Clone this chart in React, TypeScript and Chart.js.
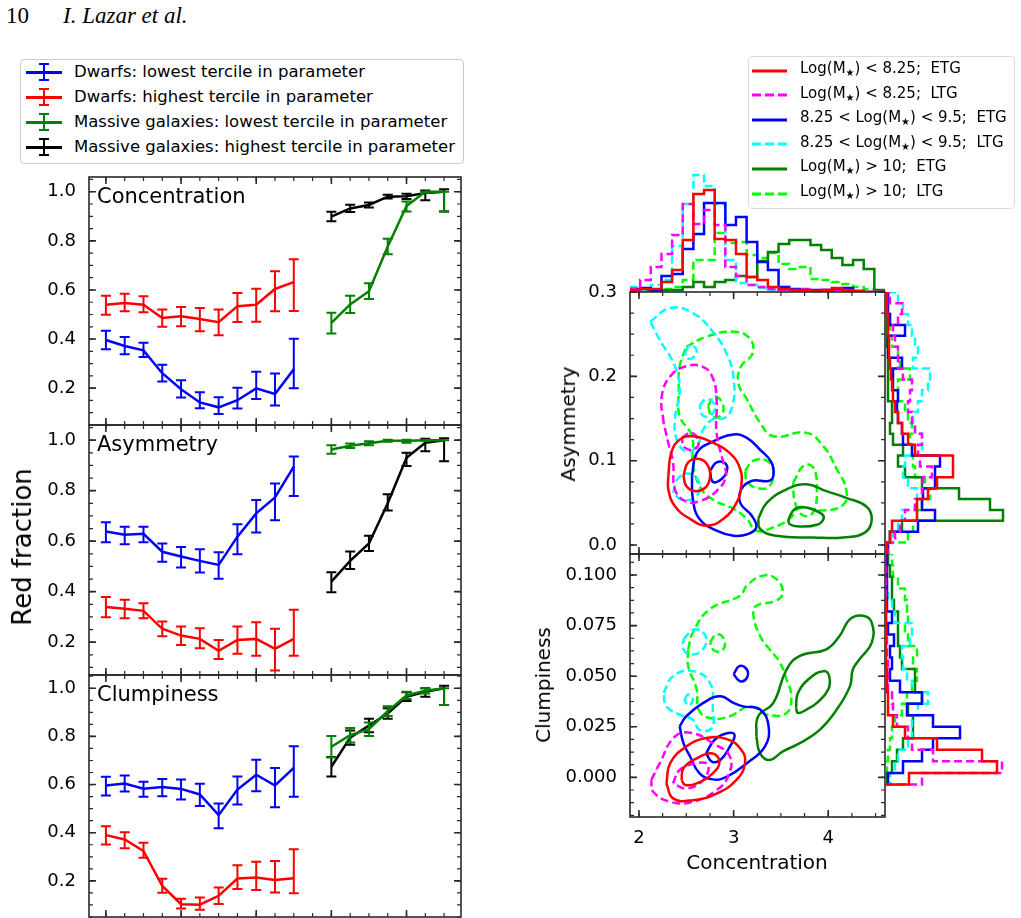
import React, { useEffect, useRef } from "react";
import { Chart, registerables } from "chart.js";

Chart.register(...registerables);
const FONT = '"DejaVu Sans", sans-serif';
Chart.defaults.font.family = FONT;
Chart.defaults.color = "#000";

// ---------------- Left panels: red fraction ----------------
const DWARF_X = [0, 1, 2, 3, 4, 5, 6, 7, 8, 9, 10];
const MASSIVE_X = [12, 13, 14, 15, 16, 17, 18];
const LEFT_Y_TICKS = [0.2, 0.4, 0.6, 0.8, 1.0];

const CONC_DL = [0.396, 0.372, 0.354, 0.261, 0.196, 0.142, 0.122, 0.151, 0.199, 0.176, 0.277];
const CONC_DL_HI = [0.038, 0.036, 0.031, 0.034, 0.036, 0.041, 0.041, 0.051, 0.068, 0.084, 0.124];
const CONC_DL_LO = [0.038, 0.034, 0.027, 0.034, 0.034, 0.024, 0.027, 0.034, 0.043, 0.047, 0.077];
const CONC_DH = [0.54, 0.547, 0.54, 0.486, 0.493, 0.482, 0.469, 0.534, 0.54, 0.604, 0.632];
const CONC_DH_HI = [0.036, 0.038, 0.034, 0.034, 0.038, 0.045, 0.051, 0.054, 0.065, 0.072, 0.093];
const CONC_DH_LO = [0.041, 0.034, 0.031, 0.036, 0.041, 0.05, 0.053, 0.065, 0.07, 0.091, 0.118];
const CONC_ML = [0.466, 0.541, 0.595, 0.777, 0.942, 1.0, 1.0];
const CONC_ML_HI = [0.041, 0.035, 0.032, 0.032, 0.018, 0.0, 0.0];
const CONC_ML_LO = [0.043, 0.035, 0.032, 0.032, 0.022, 0.005, 0.08];
const CONC_MH = [0.899, 0.932, 0.946, 0.98, 0.982, 0.995, 1.0];
const CONC_MH_HI = [0.019, 0.015, 0.01, 0.008, 0.01, 0.01, 0.01];
const CONC_MH_LO = [0.019, 0.015, 0.01, 0.008, 0.012, 0.03, 0.08];

const ASYM_DL = [0.638, 0.625, 0.629, 0.558, 0.539, 0.522, 0.506, 0.618, 0.71, 0.773, 0.895];
const ASYM_DL_HI = [0.037, 0.032, 0.028, 0.033, 0.038, 0.046, 0.05, 0.049, 0.053, 0.055, 0.04];
const ASYM_DL_LO = [0.042, 0.037, 0.033, 0.04, 0.043, 0.046, 0.055, 0.07, 0.076, 0.09, 0.116];
const ASYM_DH = [0.339, 0.332, 0.324, 0.253, 0.226, 0.213, 0.166, 0.209, 0.213, 0.174, 0.213];
const ASYM_DH_HI = [0.04, 0.036, 0.03, 0.029, 0.036, 0.042, 0.043, 0.053, 0.066, 0.079, 0.115];
const ASYM_DH_LO = [0.04, 0.037, 0.029, 0.03, 0.037, 0.037, 0.033, 0.055, 0.067, 0.086, 0.067];
const ASYM_ML = [0.963, 0.978, 0.988, 0.998, 0.998, 1.0, 1.0];
const ASYM_ML_HI = [0.017, 0.009, 0.008, 0.004, 0.004, 0.0, 0.0];
const ASYM_ML_LO = [0.017, 0.009, 0.008, 0.004, 0.008, 0.002, 0.0];
const ASYM_MH = [0.44, 0.522, 0.591, 0.75, 0.93, 0.99, 1.0];
const ASYM_MH_HI = [0.037, 0.037, 0.03, 0.036, 0.02, 0.016, 0.008];
const ASYM_MH_LO = [0.042, 0.032, 0.03, 0.029, 0.032, 0.034, 0.084];

const CLUMP_DL = [0.596, 0.604, 0.583, 0.59, 0.582, 0.559, 0.473, 0.579, 0.641, 0.596, 0.669];
const CLUMP_DL_HI = [0.036, 0.034, 0.029, 0.033, 0.039, 0.044, 0.048, 0.055, 0.062, 0.073, 0.09];
const CLUMP_DL_LO = [0.041, 0.033, 0.034, 0.039, 0.044, 0.048, 0.054, 0.062, 0.069, 0.09, 0.12];
const CLUMP_DH = [0.39, 0.372, 0.324, 0.179, 0.103, 0.101, 0.138, 0.21, 0.214, 0.204, 0.211];
const CLUMP_DH_HI = [0.037, 0.03, 0.034, 0.03, 0.023, 0.03, 0.034, 0.055, 0.065, 0.079, 0.12];
const CLUMP_DH_LO = [0.039, 0.037, 0.028, 0.028, 0.018, 0.021, 0.034, 0.044, 0.052, 0.052, 0.062];
const CLUMP_ML = [0.757, 0.805, 0.83, 0.905, 0.97, 0.99, 1.0];
const CLUMP_ML_HI = [0.045, 0.03, 0.028, 0.02, 0.015, 0.01, 0.0];
const CLUMP_ML_LO = [0.045, 0.03, 0.028, 0.02, 0.015, 0.012, 0.07];
const CLUMP_MH = [0.674, 0.795, 0.845, 0.895, 0.965, 0.985, 1.0];
const CLUMP_MH_HI = [0.04, 0.03, 0.028, 0.022, 0.018, 0.015, 0.01];
const CLUMP_MH_LO = [0.04, 0.03, 0.028, 0.022, 0.018, 0.02, 0.07];

const LEFT_LEGEND = [
  { color: "#0000ff", label: "Dwarfs: lowest tercile in parameter" },
  { color: "#ff0000", label: "Dwarfs: highest tercile in parameter" },
  { color: "#008000", label: "Massive galaxies: lowest tercile in parameter" },
  { color: "#000000", label: "Massive galaxies: highest tercile in parameter" },
];

// ---------------- Right: histograms ----------------
const CONC_EDGES = [1.9, 2.0125, 2.125, 2.2375, 2.35, 2.4625, 2.575, 2.6875, 2.8, 2.9125, 3.025, 3.1375, 3.25, 3.3625, 3.475, 3.5875, 3.7, 3.8125, 3.925, 4.0375, 4.15, 4.2625, 4.375, 4.4875, 4.6];
const HC_RED = [0.02, 0.03, 0.03, 0.10, 0.22, 0.52, 0.98, 1.02, 0.53, 0.52, 0.38, 0.15, 0.12, 0.05, 0.03, 0.02, 0.02, 0.01, 0.02, 0.04, 0.02, 0.01, 0, 0];
const HC_MAGENTA = [0.03, 0.12, 0.25, 0.38, 0.57, 0.88, 0.68, 0.82, 0.67, 0.25, 0.16, 0.07, 0.05, 0.03, 0.02, 0.02, 0.03, 0.01, 0.02, 0.01, 0, 0, 0, 0];
const HC_BLUE = [0.03, 0.04, 0.01, 0.16, 0.18, 0.43, 0.58, 0.89, 0.89, 0.67, 0.75, 0.5, 0.3, 0.22, 0.05, 0.03, 0.02, 0.02, 0.02, 0.02, 0.04, 0.01, 0, 0];
const HC_CYAN = [0.05, 0.02, 0.07, 0.12, 0.46, 0.88, 1.17, 1.06, 0.88, 0.32, 0.09, 0.07, 0.04, 0.02, 0.02, 0.01, 0.01, 0.01, 0, 0, 0, 0, 0, 0];
const HC_GREEN = [0.02, 0.02, 0.02, 0.02, 0.02, 0.05, 0.1, 0.05, 0.1, 0.12, 0.16, 0.15, 0.31, 0.4, 0.48, 0.52, 0.52, 0.47, 0.42, 0.34, 0.27, 0.32, 0.23, 0.02];
const HC_LIME = [0.02, 0.02, 0.02, 0.03, 0.05, 0.12, 0.32, 0.32, 0.59, 0.49, 0.5, 0.37, 0.34, 0.39, 0.28, 0.23, 0.25, 0.13, 0.12, 0.1, 0.08, 0.05, 0.03, 0.01];

const ASYM_EDGES = [-0.01, 0.0029, 0.0158, 0.0287, 0.0416, 0.0545, 0.0674, 0.0803, 0.0932, 0.1061, 0.119, 0.1319, 0.1448, 0.1577, 0.1706, 0.1835, 0.1964, 0.2093, 0.2222, 0.2351, 0.248, 0.2609, 0.2738, 0.2867, 0.2996];
const HA_RED = [0.02, 0.05, 0.07, 0.32, 0.32, 0.43, 0.52, 0.68, 0.68, 0.3, 0.23, 0.17, 0.13, 0.1, 0.08, 0.07, 0.06, 0.05, 0.04, 0.04, 0.03, 0.03, 0.02, 0.02];
const HA_MAGENTA = [0.03, 0.1, 0.15, 0.2, 0.3, 0.37, 0.38, 0.47, 0.35, 0.33, 0.37, 0.3, 0.27, 0.23, 0.25, 0.27, 0.18, 0.13, 0.13, 0.1, 0.08, 0.13, 0.17, 0.05];
const HA_BLUE = [0.03, 0.05, 0.33, 0.5, 0.37, 0.38, 0.5, 0.5, 0.55, 0.27, 0.18, 0.17, 0.13, 0.12, 0.13, 0.08, 0.08, 0.17, 0.03, 0.03, 0.2, 0.05, 0.03, 0.03];
const HA_CYAN = [0.03, 0.08, 0.13, 0.17, 0.3, 0.32, 0.23, 0.18, 0.2, 0.37, 0.37, 0.3, 0.28, 0.33, 0.37, 0.43, 0.45, 0.28, 0.33, 0.3, 0.27, 0.23, 0.18, 0.13];
const HA_GREEN = [0.02, 0.05, 0.17, 1.18, 1.05, 0.74, 0.37, 0.2, 0.13, 0.18, 0.08, 0.05, 0.07, 0.07, 0.03, 0.03, 0.03, 0.03, 0.03, 0.02, 0.02, 0.02, 0.02, 0.02];
const HA_LIME = [0.02, 0.23, 0.28, 0.32, 0.37, 0.45, 0.4, 0.3, 0.28, 0.27, 0.25, 0.27, 0.23, 0.2, 0.13, 0.13, 0.25, 0.15, 0.13, 0.07, 0.05, 0.05, 0.03, 0.03];

const CLUMP_EDGES = [-0.0035, 0.0022, 0.0079, 0.0136, 0.0193, 0.025, 0.0307, 0.0364, 0.0421, 0.0478, 0.0535, 0.0592, 0.0649, 0.0706, 0.0763, 0.082, 0.0877, 0.0934, 0.0991, 0.1048, 0.1105];
const HK_RED = [0.24, 1.12, 0.97, 0.52, 0.2, 0.08, 0.03, 0.03, 0.02, 0.02, 0.01, 0.01, 0.01, 0.01, 0.01, 0.01, 0, 0, 0, 0];
const HK_MAGENTA = [0.37, 1.17, 0.48, 0.27, 0.23, 0.12, 0.08, 0.07, 0.03, 0.03, 0.03, 0.02, 0.02, 0.01, 0.01, 0.01, 0.01, 0.01, 0.01, 0];
const HK_BLUE = [0.03, 0.18, 0.37, 0.48, 0.75, 0.48, 0.22, 0.37, 0.15, 0.05, 0.07, 0.05, 0.09, 0.03, 0.07, 0.02, 0.02, 0.02, 0.02, 0.02];
const HK_CYAN = [0.05, 0.1, 0.13, 0.23, 0.27, 0.27, 0.33, 0.43, 0.27, 0.22, 0.18, 0.17, 0.25, 0.27, 0.1, 0.07, 0.03, 0.02, 0.01, 0.01];
const HK_GREEN = [0.02, 0.07, 0.12, 0.18, 0.28, 0.28, 0.23, 0.37, 0.3, 0.3, 0.17, 0.15, 0.13, 0.13, 0.13, 0.09, 0.07, 0.07, 0.05, 0.03];
const HK_LIME = [0.02, 0.02, 0.03, 0.05, 0.07, 0.1, 0.17, 0.22, 0.27, 0.32, 0.28, 0.32, 0.23, 0.2, 0.23, 0.22, 0.2, 0.13, 0.08, 0.07];

// ---------------- Right: contours (Concentration, value) ----------------
const A_RED_1 = [[2.31, 0.082], [2.34, 0.109], [2.43, 0.125], [2.57, 0.129], [2.75, 0.123], [2.96, 0.109], [3.07, 0.09], [3.08, 0.07], [3.03, 0.05], [2.89, 0.031], [2.71, 0.023], [2.54, 0.031], [2.38, 0.046], [2.31, 0.066]];
const A_RED_2 = [[2.47, 0.082], [2.52, 0.098], [2.64, 0.102], [2.73, 0.094], [2.75, 0.08], [2.7, 0.068], [2.59, 0.064], [2.5, 0.07]];
const A_MAGENTA_1 = [[2.26, 0.145], [2.24, 0.176], [2.33, 0.2], [2.5, 0.212], [2.68, 0.211], [2.78, 0.198], [2.82, 0.173], [2.82, 0.133], [2.89, 0.098], [2.92, 0.082], [2.82, 0.064], [2.64, 0.052], [2.49, 0.052], [2.38, 0.066], [2.36, 0.098], [2.31, 0.121]];
const A_MAGENTA_2 = [[2.45, 0.127], [2.56, 0.133], [2.63, 0.121], [2.57, 0.113], [2.48, 0.116]];
const A_BLUE_1 = [[2.56, 0.082], [2.61, 0.109], [2.75, 0.121], [3.0, 0.131], [3.14, 0.127], [3.28, 0.113], [3.4, 0.098], [3.42, 0.082], [3.37, 0.076], [3.19, 0.076], [3.08, 0.066], [3.07, 0.05], [3.19, 0.035], [3.24, 0.021], [3.15, 0.013], [3.0, 0.011], [2.82, 0.017], [2.64, 0.031], [2.57, 0.054]];
const A_BLUE_2 = [[2.75, 0.088], [2.82, 0.098], [2.91, 0.097], [2.93, 0.088], [2.87, 0.078], [2.78, 0.075]];
const A_CYAN_1 = [[2.12, 0.265], [2.33, 0.281], [2.57, 0.275], [2.78, 0.253], [2.93, 0.226], [3.0, 0.198], [2.99, 0.166], [2.91, 0.151], [2.78, 0.149], [2.68, 0.137], [2.61, 0.117], [2.5, 0.111], [2.4, 0.125], [2.38, 0.149], [2.43, 0.184], [2.38, 0.212], [2.22, 0.243]];
const A_CYAN_2 = [[2.49, 0.229], [2.54, 0.237], [2.61, 0.231], [2.57, 0.222], [2.5, 0.222]];
const A_CYAN_3 = [[2.64, 0.165], [2.71, 0.173], [2.8, 0.166], [2.77, 0.155], [2.68, 0.153]];
const A_CYAN_4 = [[2.36, 0.062], [2.42, 0.08], [2.56, 0.084], [2.64, 0.07], [2.59, 0.056], [2.45, 0.054]];
const A_GREEN_1 = [[3.26, 0.031], [3.35, 0.05], [3.56, 0.066], [3.77, 0.072], [3.98, 0.064], [4.19, 0.056], [4.4, 0.046], [4.46, 0.031], [4.39, 0.015], [4.16, 0.009], [3.84, 0.009], [3.45, 0.011], [3.28, 0.019]];
const A_GREEN_2 = [[3.58, 0.031], [3.65, 0.043], [3.79, 0.044], [3.93, 0.037], [3.95, 0.031], [3.88, 0.024], [3.7, 0.022], [3.59, 0.025]];
const A_LIME_1 = [[2.5, 0.235], [2.71, 0.247], [3.0, 0.253], [3.17, 0.245], [3.2, 0.227], [3.08, 0.212], [3.05, 0.192], [3.14, 0.173], [3.28, 0.145], [3.42, 0.129], [3.77, 0.133], [3.95, 0.117], [4.09, 0.09], [4.19, 0.066], [4.16, 0.048], [3.95, 0.041], [3.7, 0.044], [3.59, 0.031], [3.42, 0.021], [3.24, 0.017], [3.14, 0.031], [3.0, 0.043], [2.78, 0.054], [2.64, 0.07], [2.57, 0.098], [2.56, 0.129], [2.43, 0.153], [2.42, 0.184], [2.43, 0.212]];
const A_LIME_2 = [[3.12, 0.088], [3.21, 0.1], [3.35, 0.1], [3.42, 0.088], [3.38, 0.07], [3.28, 0.067], [3.15, 0.074]];
const A_LIME_3 = [[3.63, 0.074], [3.74, 0.094], [3.84, 0.092], [3.88, 0.066], [3.84, 0.039], [3.74, 0.035], [3.65, 0.05]];
const A_LIME_4 = [[2.73, 0.165], [2.8, 0.176], [2.89, 0.166], [2.86, 0.153], [2.77, 0.153]];

const K_RED_1 = [[2.29, -0.003], [2.33, 0.007], [2.5, 0.0152], [2.71, 0.0194], [2.93, 0.0189], [3.08, 0.0136], [3.12, 0.007], [3.03, -0.0013], [2.82, -0.008], [2.57, -0.0113], [2.36, -0.0104]];
const K_RED_2 = [[2.45, -0.0013], [2.47, 0.0045], [2.61, 0.0094], [2.77, 0.0119], [2.85, 0.0078], [2.78, 0.002], [2.61, -0.003], [2.49, -0.0038]];
const K_MAGENTA_1 = [[2.13, -0.0013], [2.22, 0.007], [2.38, 0.0202], [2.56, 0.0219], [2.78, 0.0169], [2.96, 0.0103], [2.94, 0.0003], [2.82, -0.0063], [2.57, -0.0121], [2.33, -0.0121], [2.15, -0.0071]];
const K_MAGENTA_2 = [[2.36, -0.003], [2.43, 0.0036], [2.61, 0.007], [2.73, 0.0061], [2.68, -0.0013], [2.5, -0.0055]];
const K_BLUE_1 = [[2.43, 0.0252], [2.5, 0.0302], [2.68, 0.0368], [2.86, 0.0401], [3.0, 0.0368], [3.1, 0.0351], [3.28, 0.0335], [3.37, 0.0252], [3.33, 0.0152], [3.14, 0.007], [2.93, 0.0003], [2.78, -0.001], [2.64, 0.002], [2.54, 0.0103], [2.47, 0.0169]];
const K_BLUE_2 = [[2.71, 0.0119], [2.8, 0.0186], [2.94, 0.0219], [3.01, 0.021], [2.96, 0.0152], [2.86, 0.0086], [2.77, 0.0078]];
const K_BLUE_3 = [[3.0, 0.0509], [3.06, 0.055], [3.14, 0.0533], [3.14, 0.0492], [3.07, 0.0475]];
const K_CYAN_1 = [[2.47, 0.0683], [2.59, 0.0732], [2.71, 0.0691], [2.66, 0.0625], [2.54, 0.0608], [2.47, 0.0633]];
const K_CYAN_2 = [[2.26, 0.0417], [2.36, 0.05], [2.57, 0.0525], [2.75, 0.0467], [2.78, 0.0335], [2.77, 0.0244], [2.64, 0.0235], [2.57, 0.0285], [2.43, 0.031], [2.29, 0.0351]];
const K_CYAN_3 = [[2.48, 0.0384], [2.52, 0.0409], [2.57, 0.0384], [2.52, 0.0355]];
const K_GREEN_1 = [[3.24, 0.0202], [3.26, 0.0302], [3.42, 0.0368], [3.56, 0.0533], [3.7, 0.06], [3.98, 0.0633], [4.12, 0.0699], [4.23, 0.0782], [4.37, 0.0799], [4.46, 0.0765], [4.46, 0.0666], [4.33, 0.0583], [4.26, 0.0533], [4.23, 0.0451], [4.09, 0.0335], [3.91, 0.0235], [3.7, 0.0169], [3.52, 0.0128], [3.38, 0.0086], [3.28, 0.0119]];
const K_GREEN_2 = [[3.66, 0.0343], [3.68, 0.0417], [3.81, 0.0492], [3.95, 0.0525], [4.01, 0.05], [4.0, 0.0434], [3.88, 0.0368], [3.77, 0.0335], [3.68, 0.0318]];
const K_LIME_1 = [[2.52, 0.0633], [2.57, 0.0716], [2.75, 0.0832], [3.07, 0.0898], [3.14, 0.0948], [3.31, 0.0997], [3.45, 0.0981], [3.52, 0.0915], [3.45, 0.0873], [3.24, 0.0848], [3.21, 0.0799], [3.28, 0.0699], [3.38, 0.0633], [3.49, 0.0567], [3.56, 0.0484], [3.61, 0.0401], [3.56, 0.0318], [3.35, 0.031], [3.17, 0.0351], [2.96, 0.0302], [2.75, 0.0293], [2.63, 0.0335], [2.61, 0.0434], [2.52, 0.055]];
const K_LIME_2 = [[2.75, 0.0666], [2.82, 0.0707], [2.9, 0.0683], [2.89, 0.0633], [2.8, 0.0625]];

const RIGHT_LEGEND = [
  { color: "#ff0000", dash: false, pre: "Log(M", post: ") < 8.25;  ETG" },
  { color: "#ff00ff", dash: true, pre: "Log(M", post: ") < 8.25;  LTG" },
  { color: "#0000ff", dash: false, pre: "8.25 < Log(M", post: ") < 9.5;  ETG" },
  { color: "#00ffff", dash: true, pre: "8.25 < Log(M", post: ") < 9.5;  LTG" },
  { color: "#008000", dash: false, pre: "Log(M", post: ") > 10;  ETG" },
  { color: "#00ff00", dash: true, pre: "Log(M", post: ") > 10;  LTG" },
];

// ---------------- helpers ----------------
function range(a: number, b: number, s: number) {
  const out: number[] = [];
  for (let v = a; v <= b + s * 1e-6; v += s) out.push(Math.round(v * 1e7) / 1e7);
  return out;
}
const toXY = (xs: number[], ys: number[]) => xs.map((x, i) => ({ x, y: ys[i] }));

const frameTicks = {
  id: "frameTicks",
  afterDraw(chart: any, _a: any, opts: any) {
    if (!opts || !opts.on) return;
    const { ctx, chartArea: a, scales } = chart;
    const xs = scales.x, ys = scales.y;
    ctx.save();
    ctx.strokeStyle = "#2a2a2a";
    const tick = (vals: number[], len: number, lw: number, horiz: boolean) => {
      ctx.lineWidth = lw;
      ctx.beginPath();
      vals.forEach((v) => {
        if (horiz) {
          const p = xs.getPixelForValue(v);
          if (p < a.left - 0.5 || p > a.right + 0.5) return;
          ctx.moveTo(p, a.bottom); ctx.lineTo(p, a.bottom - len);
          ctx.moveTo(p, a.top); ctx.lineTo(p, a.top + len);
        } else {
          const p = ys.getPixelForValue(v);
          if (p < a.top - 0.5 || p > a.bottom + 0.5) return;
          ctx.moveTo(a.left, p); ctx.lineTo(a.left + len, p);
          ctx.moveTo(a.right, p); ctx.lineTo(a.right - len, p);
        }
      });
      ctx.stroke();
    };
    tick(opts.xMinor, 4, 1.2, true);
    tick(opts.xMajor, 7, 1.6, true);
    tick(opts.yMinor, 4, 1.2, false);
    tick(opts.yMajor, 7, 1.6, false);
    ctx.lineWidth = 1.6;
    ctx.strokeRect(a.left, a.top, a.right - a.left, a.bottom - a.top);
    if (opts.label) {
      ctx.fillStyle = "#000";
      ctx.font = `21px ${FONT}`;
      ctx.textBaseline = "alphabetic";
      ctx.fillText(opts.label, a.left + 8, a.top + 26);
    }
    ctx.restore();
  },
};

const errorBars = {
  id: "errorBars",
  afterDatasetDraw(chart: any, args: any) {
    const ds = chart.data.datasets[args.index];
    if (!ds.errLo) return;
    const { ctx, scales } = chart;
    ctx.save();
    ctx.strokeStyle = ds.borderColor;
    ctx.lineWidth = 2;
    ctx.beginPath();
    ds.data.forEach((p: any, i: number) => {
      const x = scales.x.getPixelForValue(p.x);
      const yt = scales.y.getPixelForValue(p.y + ds.errHi[i]);
      const yb = scales.y.getPixelForValue(p.y - ds.errLo[i]);
      ctx.moveTo(x, yt); ctx.lineTo(x, yb);
      ctx.moveTo(x - 5, yt); ctx.lineTo(x + 5, yt);
      ctx.moveTo(x - 5, yb); ctx.lineTo(x + 5, yb);
    });
    ctx.stroke();
    ctx.restore();
  },
};

function lineDs(xs: number[], ys: number[], lo: number[], hi: number[], color: string) {
  return {
    data: toXY(xs, ys), errLo: lo, errHi: hi, borderColor: color, backgroundColor: color,
    borderWidth: 2.5, pointRadius: 0, showLine: true, tension: 0,
  };
}

function yAxis(min: number, max: number, ticks: number[], width: number, digits: number) {
  return {
    type: "linear", min, max,
    grid: { display: false }, border: { display: false },
    ticks: { font: { size: 18, family: FONT }, color: "#000", padding: 5, callback: (v: any) => Number(v).toFixed(digits) },
    afterBuildTicks: (s: any) => { s.ticks = ticks.map((v) => ({ value: v })); },
    afterFit: (s: any) => { s.width = width; s.paddingTop = 0; s.paddingBottom = 0; },
  };
}

function leftConfig(title: string, yMin: number, yMax: number, padTop: number, padBottom: number, series: any[]) {
  return {
    type: "scatter",
    data: { datasets: series },
    options: {
      animation: false, responsive: false, devicePixelRatio: 1,
      layout: { padding: { left: 0, right: 9, top: padTop, bottom: padBottom } },
      plugins: {
        legend: { display: false }, tooltip: { enabled: false },
        frameTicks: { on: true, label: title, xMajor: [0, 4, 8, 12, 16], xMinor: range(-0, 18, 1), yMajor: LEFT_Y_TICKS, yMinor: range(0.05, 1.05, 0.05) },
      },
      scales: {
        x: { type: "linear", display: false, min: -0.9, max: 18.9 },
        y: yAxis(yMin, yMax, LEFT_Y_TICKS, 89, 1),
      },
    },
    plugins: [errorBars, frameTicks],
  };
}

function contourDs(pts: number[][], color: string, dashed: boolean) {
  const data = pts.map(([x, y]) => ({ x, y }));
  data.push({ x: pts[0][0], y: pts[0][1] });
  return {
    data, borderColor: color, borderWidth: 2.5, pointRadius: 0, showLine: true, tension: 0.45,
    borderDash: dashed ? [8, 4] : [], fill: false,
  };
}

function histDs(edges: number[], h: number[], color: string, dashed: boolean, horizontal: boolean) {
  const pts: { x: number; y: number }[] = [];
  const P = (e: number, v: number) => (horizontal ? { x: v, y: e } : { x: e, y: v });
  pts.push(P(edges[0], 0));
  h.forEach((v, i) => { pts.push(P(edges[i], v)); pts.push(P(edges[i + 1], v)); });
  pts.push(P(edges[edges.length - 1], 0));
  return {
    data: pts, borderColor: color, borderWidth: 2.5, pointRadius: 0, showLine: true, tension: 0,
    borderDash: dashed ? [8, 4] : [],
  };
}

const COL = { red: "#ff0000", magenta: "#ff00ff", blue: "#0000ff", cyan: "#00ffff", green: "#008000", lime: "#00ff00" };

function histConfig(sets: any[], xr: number[], yr: number[]) {
  return {
    type: "scatter",
    data: { datasets: sets },
    options: {
      animation: false, responsive: false, devicePixelRatio: 1,
      layout: { padding: 0 },
      plugins: { legend: { display: false }, tooltip: { enabled: false } },
      scales: {
        x: { type: "linear", display: false, min: xr[0], max: xr[1] },
        y: { type: "linear", display: false, min: yr[0], max: yr[1] },
      },
    },
  };
}

const X_MAJOR_R = [2, 3, 4];
const X_MINOR_R = range(2, 4.5, 0.25);

function mainConfig(sets: any[], yMin: number, yMax: number, yTicks: number[], yMinor: number[], digits: number, showX: boolean, pad: any) {
  return {
    type: "scatter",
    data: { datasets: sets },
    options: {
      animation: false, responsive: false, devicePixelRatio: 1,
      layout: { padding: pad },
      plugins: {
        legend: { display: false }, tooltip: { enabled: false },
        frameTicks: { on: true, xMajor: X_MAJOR_R, xMinor: X_MINOR_R, yMajor: yTicks, yMinor },
      },
      scales: {
        x: showX
          ? {
              type: "linear", min: 1.905, max: 4.6,
              grid: { display: false }, border: { display: false },
              ticks: { font: { size: 18, family: FONT }, color: "#000", padding: 3 },
              afterBuildTicks: (s: any) => { s.ticks = X_MAJOR_R.map((v) => ({ value: v })); },
              afterFit: (s: any) => { s.height = 41; s.paddingLeft = 0; s.paddingRight = 0; },
            }
          : { type: "linear", display: false, min: 1.905, max: 4.6 },
        y: yAxis(yMin, yMax, yTicks, 90, digits),
      },
    },
    plugins: [frameTicks],
  };
}

function ChartBox({ config, left, top, width, height }: any) {
  const ref = useRef<HTMLCanvasElement>(null);
  useEffect(() => {
    const chart = new Chart(ref.current as HTMLCanvasElement, config);
    return () => chart.destroy();
  }, []);
  return <canvas ref={ref} width={width} height={height} style={{ position: "absolute", left, top, width, height }} />;
}

function ErrSymbol({ color }: { color: string }) {
  return (
    <div style={{ position: "relative", width: 36, height: 20 }}>
      <div style={{ position: "absolute", left: 0, top: 9, width: 36, height: 2.5, background: color }} />
      <div style={{ position: "absolute", left: 17, top: 1, width: 2, height: 18, background: color }} />
      <div style={{ position: "absolute", left: 13, top: 1, width: 10, height: 2, background: color }} />
      <div style={{ position: "absolute", left: 13, top: 17, width: 10, height: 2, background: color }} />
    </div>
  );
}

export default function App() {
  const concSeries = [
    lineDs(DWARF_X, CONC_DL, CONC_DL_LO, CONC_DL_HI, "#0000ff"),
    lineDs(DWARF_X, CONC_DH, CONC_DH_LO, CONC_DH_HI, "#ff0000"),
    lineDs(MASSIVE_X, CONC_ML, CONC_ML_LO, CONC_ML_HI, "#008000"),
    lineDs(MASSIVE_X, CONC_MH, CONC_MH_LO, CONC_MH_HI, "#000000"),
  ];
  const asymSeries = [
    lineDs(DWARF_X, ASYM_DL, ASYM_DL_LO, ASYM_DL_HI, "#0000ff"),
    lineDs(DWARF_X, ASYM_DH, ASYM_DH_LO, ASYM_DH_HI, "#ff0000"),
    lineDs(MASSIVE_X, ASYM_ML, ASYM_ML_LO, ASYM_ML_HI, "#008000"),
    lineDs(MASSIVE_X, ASYM_MH, ASYM_MH_LO, ASYM_MH_HI, "#000000"),
  ];
  const clumpSeries = [
    lineDs(DWARF_X, CLUMP_DL, CLUMP_DL_LO, CLUMP_DL_HI, "#0000ff"),
    lineDs(DWARF_X, CLUMP_DH, CLUMP_DH_LO, CLUMP_DH_HI, "#ff0000"),
    lineDs(MASSIVE_X, CLUMP_ML, CLUMP_ML_LO, CLUMP_ML_HI, "#008000"),
    lineDs(MASSIVE_X, CLUMP_MH, CLUMP_MH_LO, CLUMP_MH_HI, "#000000"),
  ];

  const asymContours = [
    contourDs(A_RED_1, COL.red, false), contourDs(A_RED_2, COL.red, false),
    contourDs(A_MAGENTA_1, COL.magenta, true), contourDs(A_MAGENTA_2, COL.magenta, true),
    contourDs(A_BLUE_1, COL.blue, false), contourDs(A_BLUE_2, COL.blue, false),
    contourDs(A_CYAN_1, COL.cyan, true), contourDs(A_CYAN_2, COL.cyan, true), contourDs(A_CYAN_3, COL.cyan, true), contourDs(A_CYAN_4, COL.cyan, true),
    contourDs(A_GREEN_1, COL.green, false), contourDs(A_GREEN_2, COL.green, false),
    contourDs(A_LIME_1, COL.lime, true), contourDs(A_LIME_2, COL.lime, true), contourDs(A_LIME_3, COL.lime, true), contourDs(A_LIME_4, COL.lime, true),
  ];
  const clumpContours = [
    contourDs(K_RED_1, COL.red, false), contourDs(K_RED_2, COL.red, false),
    contourDs(K_MAGENTA_1, COL.magenta, true), contourDs(K_MAGENTA_2, COL.magenta, true),
    contourDs(K_BLUE_1, COL.blue, false), contourDs(K_BLUE_2, COL.blue, false), contourDs(K_BLUE_3, COL.blue, false),
    contourDs(K_CYAN_1, COL.cyan, true), contourDs(K_CYAN_2, COL.cyan, true), contourDs(K_CYAN_3, COL.cyan, true),
    contourDs(K_GREEN_1, COL.green, false), contourDs(K_GREEN_2, COL.green, false),
    contourDs(K_LIME_1, COL.lime, true), contourDs(K_LIME_2, COL.lime, true),
  ];

  const topHist = [
    histDs(CONC_EDGES, HC_RED, COL.red, false, false), histDs(CONC_EDGES, HC_MAGENTA, COL.magenta, true, false),
    histDs(CONC_EDGES, HC_BLUE, COL.blue, false, false), histDs(CONC_EDGES, HC_CYAN, COL.cyan, true, false),
    histDs(CONC_EDGES, HC_GREEN, COL.green, false, false), histDs(CONC_EDGES, HC_LIME, COL.lime, true, false),
  ];
  const asymHist = [
    histDs(ASYM_EDGES, HA_RED, COL.red, false, true), histDs(ASYM_EDGES, HA_MAGENTA, COL.magenta, true, true),
    histDs(ASYM_EDGES, HA_BLUE, COL.blue, false, true), histDs(ASYM_EDGES, HA_CYAN, COL.cyan, true, true),
    histDs(ASYM_EDGES, HA_GREEN, COL.green, false, true), histDs(ASYM_EDGES, HA_LIME, COL.lime, true, true),
  ];
  const clumpHist = [
    histDs(CLUMP_EDGES, HK_RED, COL.red, false, true), histDs(CLUMP_EDGES, HK_MAGENTA, COL.magenta, true, true),
    histDs(CLUMP_EDGES, HK_BLUE, COL.blue, false, true), histDs(CLUMP_EDGES, HK_CYAN, COL.cyan, true, true),
    histDs(CLUMP_EDGES, HK_GREEN, COL.green, false, true), histDs(CLUMP_EDGES, HK_LIME, COL.lime, true, true),
  ];

  const txt: React.CSSProperties = { position: "absolute", fontFamily: FONT, color: "#000", whiteSpace: "pre" };

  return (
    <div style={{ position: "absolute", left: 0, top: 0, width: 1021, height: 918, overflow: "hidden", background: "#fff" }}>
      <div style={{ position: "absolute", left: 6, top: 4, fontFamily: '"Liberation Serif", serif', fontSize: 23, lineHeight: "23px", whiteSpace: "pre" }}>10</div>
      <div style={{ position: "absolute", left: 63, top: 4, fontFamily: '"Liberation Serif", serif', fontSize: 23, lineHeight: "23px", fontStyle: "italic", whiteSpace: "pre" }}>I. Lazar et al.</div>

      {/* left legend */}
      <div style={{ position: "absolute", left: 20, top: 59, width: 442, height: 103, border: "1px solid #cccccc", borderRadius: 4, background: "#fff" }} />
      {LEFT_LEGEND.map((e, i) => (
        <div key={i} style={{ position: "absolute", left: 26, top: 62 + 25 * i, height: 20, display: "flex", alignItems: "center" }}>
          <ErrSymbol color={e.color} />
          <span style={{ ...txt, position: "static", marginLeft: 12, fontSize: 16.5, lineHeight: "20px" }}>{e.label}</span>
        </div>
      ))}

      <ChartBox config={leftConfig("Concentration", 0.05, 1.06, 7, 5, concSeries)} left={0} top={170} width={470} height={260} />
      <ChartBox config={leftConfig("Asymmetry", 0.07, 1.06, 7, 5, asymSeries)} left={0} top={418} width={470} height={262} />
      <ChartBox config={leftConfig("Clumpiness", 0.05, 1.055, 7, 1, clumpSeries)} left={0} top={668} width={470} height={250} />

      <div style={{ ...txt, left: 22, top: 547, fontSize: 26, transform: "translate(-50%, -50%) rotate(-90deg)" }}>Red fraction</div>

      {/* right side */}
      <ChartBox config={histConfig(topHist, [1.905, 4.6], [0, 1.27])} left={630} top={165} width={255} height={127} />
      <ChartBox config={mainConfig(asymContours, -0.0106, 0.3, [0, 0.1, 0.2, 0.3], range(0, 0.3, 0.025), 1, false, { left: 0, right: 15, top: 12, bottom: 6 })} left={540} top={280} width={360} height={280} />
      <ChartBox config={mainConfig(clumpContours, -0.0196, 0.1104, [0, 0.025, 0.05, 0.075, 0.1], range(-0.01875, 0.10625, 0.00625), 3, true, { left: 0, right: 15, top: 6, bottom: 0 })} left={540} top={548} width={360} height={310} />
      <ChartBox config={histConfig(asymHist, [0, 1.25], [-0.0106, 0.3])} left={885} top={292} width={125} height={262} />
      <ChartBox config={histConfig(clumpHist, [0, 1.25], [-0.0196, 0.1104])} left={885} top={554} width={125} height={263} />

      <div style={{ ...txt, left: 568, top: 424, fontSize: 20, transform: "translate(-50%, -50%) rotate(-90deg)" }}>Asymmetry</div>
      <div style={{ ...txt, left: 543, top: 685, fontSize: 20, transform: "translate(-50%, -50%) rotate(-90deg)" }}>Clumpiness</div>
      <div style={{ ...txt, left: 757, top: 862, fontSize: 20, transform: "translate(-50%, -50%)" }}>Concentration</div>

      {/* right legend */}
      <div style={{ position: "absolute", left: 748, top: 56, width: 265, height: 151, border: "1px solid #dddddd", borderRadius: 4, background: "rgba(255,255,255,0.8)" }} />
      {RIGHT_LEGEND.map((e, i) => (
        <div key={i} style={{ position: "absolute", left: 752, top: 60 + 24.6 * i, height: 21, display: "flex", alignItems: "center" }}>
          <svg width={35} height={6} style={{ display: "block" }}>
            <line x1={0} y1={3} x2={35} y2={3} stroke={e.color} strokeWidth={3} strokeDasharray={e.dash ? "9,4" : undefined} />
          </svg>
          <span style={{ ...txt, position: "static", marginLeft: 13, fontSize: 15, lineHeight: "21px" }}>
            {e.pre}
            <sub style={{ fontSize: 10, verticalAlign: "-3px" }}>★</sub>
            {e.post}
          </span>
        </div>
      ))}
    </div>
  );
}
